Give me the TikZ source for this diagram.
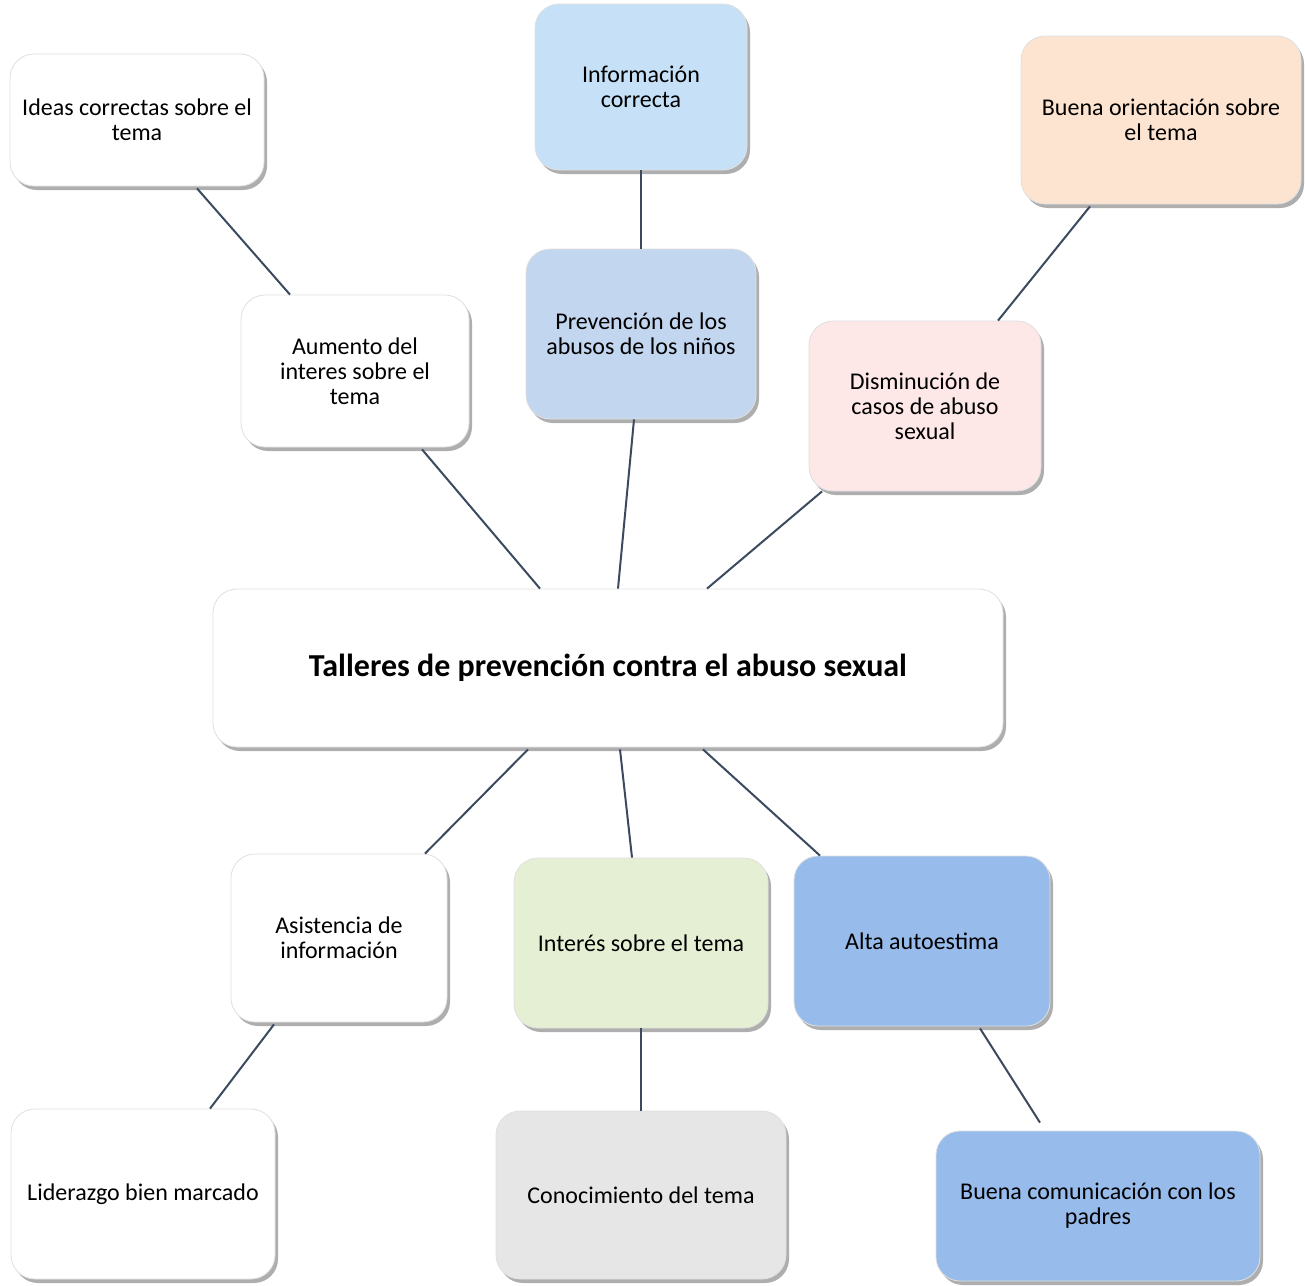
\documentclass[tikz,border=0pt]{standalone}
\usepackage{fontspec}
\setmainfont{Carlito}
\usetikzlibrary{calc,shadows}

\definecolor{linkblue}{HTML}{3B4A5E}
\definecolor{skyblue}{HTML}{C6E1F7}
\definecolor{peach}{HTML}{FDE4D0}
\definecolor{paleblue}{HTML}{C3D6EF}
\definecolor{palepink}{HTML}{FDE7E7}
\definecolor{palegreen}{HTML}{E5EFD4}
\definecolor{midblue}{HTML}{97BCEC}
\definecolor{palegray}{HTML}{E6E6E6}

\tikzset{
  idea/.style={draw=black!12, rounded corners=12pt, inner sep=0pt, align=center,
    font=\fontsize{12}{12.5}\selectfont,
    drop shadow={shadow xshift=1.5pt, shadow yshift=-2pt, opacity=0.45, fill=black!70}},
  link/.style={draw=linkblue, line width=1pt}
}

\begin{document}
\begin{tikzpicture}[x=0.5pt, y=-0.5pt]
\useasboundingbox (0, 0) rectangle (1305, 1285);

% centre
\node [idea, fill=white, minimum width=395pt, minimum height=79pt,
  font=\fontsize{16}{18}\selectfont\bfseries] (taller) at (608, 668)
  {Talleres de prevención contra el abuso sexual};

% upper branches
\node [idea, fill=white, minimum width=127pt, minimum height=66pt] (ideas) at (137, 120)
  {Ideas correctas sobre el\\tema};
\node [idea, fill=skyblue, minimum width=106pt, minimum height=83pt] (info) at (641, 87)
  {Información\\correcta};
\node [idea, fill=peach, minimum width=140pt, minimum height=84pt] (orient) at (1161, 120)
  {Buena orientación sobre\\el tema};
\node [idea, fill=white, minimum width=114pt, minimum height=76pt] (aumento) at (355, 371)
  {Aumento del\\interes sobre el\\tema};
\node [idea, fill=paleblue, minimum width=115pt, minimum height=85pt] (prev) at (641, 334)
  {Prevención de los\\abusos de los niños};
\node [idea, fill=palepink, minimum width=116pt, minimum height=85pt] (dismin) at (925, 406)
  {Disminución de\\casos de abuso\\sexual};

% lower branches
\node [idea, fill=white, minimum width=108pt, minimum height=84pt] (asist) at (339, 938)
  {Asistencia de\\información};
\node [idea, fill=palegreen, minimum width=127pt, minimum height=85pt] (interes) at (641, 943)
  {Interés sobre el tema};
\node [idea, fill=midblue, minimum width=128pt, minimum height=85pt] (alta) at (922, 941)
  {Alta autoestima};
\node [idea, fill=white, minimum width=132pt, minimum height=85pt] (lider) at (143, 1194)
  {Liderazgo bien marcado};
\node [idea, fill=palegray, minimum width=145pt, minimum height=84pt] (conoc) at (641, 1195)
  {Conocimiento del tema};
\node [idea, fill=midblue, minimum width=162pt, minimum height=75pt] (comun) at (1098, 1206)
  {Buena comunicación con los\\padres};

% connectors
\draw [link] ($(ideas.south)+(60,2)$) -- ($(aumento.north)+(-65,0)$);
\draw [link] (info.south) -- (prev.north);
\draw [link] ($(orient.south)+(-71,2)$) -- ($(dismin.north)+(73,0)$);
\draw [link] ($(aumento.south)+(67,2)$) -- ($(taller.north)+(-68,0)$);
\draw [link] ($(prev.south)+(-7,0)$) -- ($(taller.north)+(10,0)$);
\draw [link] ($(dismin.south)+(-103,0)$) -- ($(taller.north)+(99,0)$);
\draw [link] ($(taller.south)+(-80,2)$) -- ($(asist.north)+(86,0)$);
\draw [link] ($(taller.south)+(12,2)$) -- ($(interes.north)+(-9,0)$);
\draw [link] ($(taller.south)+(95,2)$) -- ($(alta.north)+(-102,0)$);
\draw [link] ($(asist.south)+(-65,2)$) -- ($(lider.north)+(67,0)$);
\draw [link] (interes.south) -- (conoc.north);
\draw [link] ($(alta.south)+(58,2)$) -- ($(comun.north)+(-58,-8)$);
\end{tikzpicture}
\end{document}
